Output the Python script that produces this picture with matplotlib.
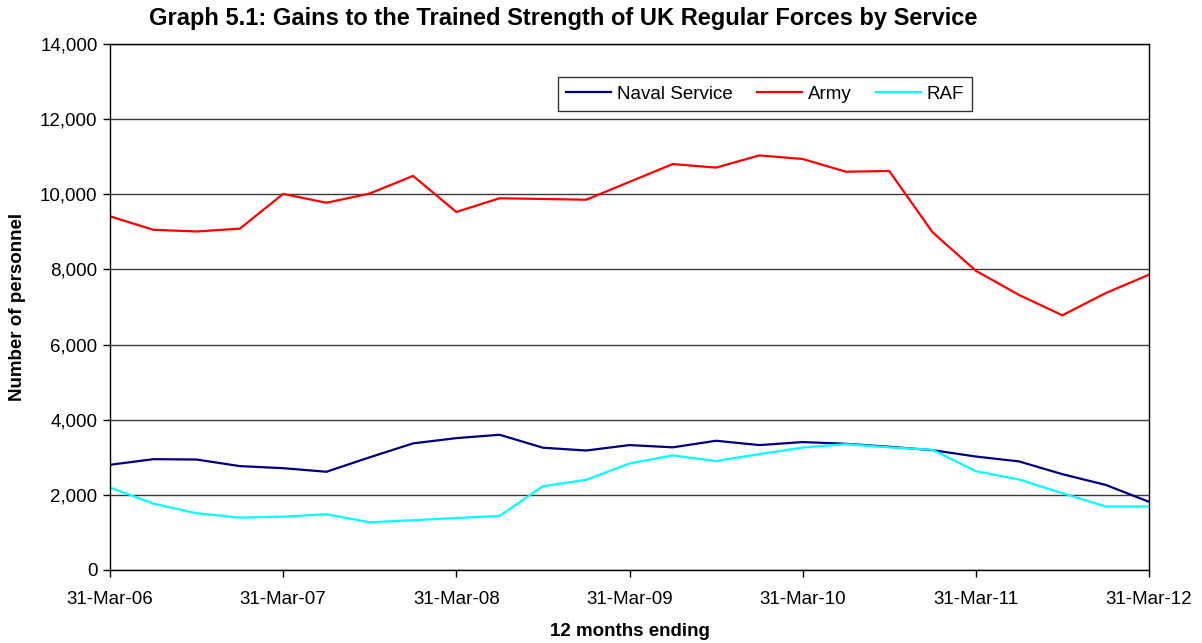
import matplotlib
matplotlib.use("Agg")
import matplotlib.pyplot as plt
from matplotlib.ticker import FuncFormatter

plt.rcParams['font.family'] = ['Liberation Sans', 'DejaVu Sans']

# quarterly, 12 months ending 31-Mar-06 .. 31-Mar-12
tick_labels = ['31-Mar-06', '31-Mar-07', '31-Mar-08', '31-Mar-09',
               '31-Mar-10', '31-Mar-11', '31-Mar-12']
naval = [2800, 2950, 2940, 2765, 2710, 2615, 3000, 3370, 3510, 3600, 3255, 3180, 3325,
         3265, 3440, 3325, 3405, 3360, 3280, 3190, 3020, 2890, 2550, 2265, 1815]
army = [9415, 9055, 9010, 9085, 10010, 9775, 10020, 10490, 9530, 9895, 9875, 9855, 10330,
        10805, 10710, 11035, 10940, 10600, 10620, 8990, 7965, 7320, 6780, 7370, 7860]
raf = [2195, 1770, 1510, 1395, 1420, 1485, 1270, 1325, 1385, 1440, 2230, 2400, 2835,
       3050, 2900, 3085, 3260, 3350, 3265, 3200, 2630, 2410, 2045, 1690, 1690]
quarters = list(range(len(army)))

fig = plt.figure(figsize=(12.02, 6.43), dpi=100)
ax = fig.add_axes([110 / 1202, 73 / 643, 1039 / 1202, 526 / 643])

ax.plot(quarters, naval, color='#000080', lw=1.6, label='Naval Service')
ax.plot(quarters, army, color='#FF0000', lw=1.6, label='Army')
ax.plot(quarters, raf, color='#00FFFF', lw=1.6, label='RAF')

ax.set_xlim(0, len(army) - 1)
ax.set_ylim(0, 14000)
ax.set_xticks(range(0, len(army), 4))
ax.set_xticklabels(tick_labels)
ax.set_yticks(range(0, 14001, 2000))
ax.yaxis.set_major_formatter(FuncFormatter(lambda v, p: f'{int(v):,}'))
ax.tick_params(labelsize=13.5, direction='out', length=5, width=1, pad=4)
ax.tick_params(axis='x', pad=10)
ax.yaxis.grid(True, color='#3a3a3a', lw=1)
ax.set_axisbelow(True)
for s in ax.spines.values():
    s.set_color('black')
    s.set_linewidth(1)

ax.set_xlabel('12 months ending', fontsize=13.5, fontweight='bold')
ax.xaxis.set_label_coords(0.5, -0.1)
fig.text(18 / 1202, 1 - 307 / 643, 'Number of personnel', rotation=90,
         ha='center', va='center', fontsize=13.5, fontweight='bold')

leg = ax.legend(loc='center', bbox_to_anchor=(0.6304, 0.904), ncol=3, fontsize=13.5,
                frameon=True, fancybox=False, handlelength=2.4, handletextpad=0.3,
                columnspacing=1.3, borderpad=0.45, borderaxespad=0)
leg.get_frame().set_edgecolor('black')
leg.get_frame().set_linewidth(1)

fig.text(563 / 1202, 1 - 19 / 643,
         'Graph 5.1: Gains to the Trained Strength of UK Regular Forces by Service',
         ha='center', va='center', fontsize=17, fontweight='bold')

fig.savefig('out.png', dpi=100)
